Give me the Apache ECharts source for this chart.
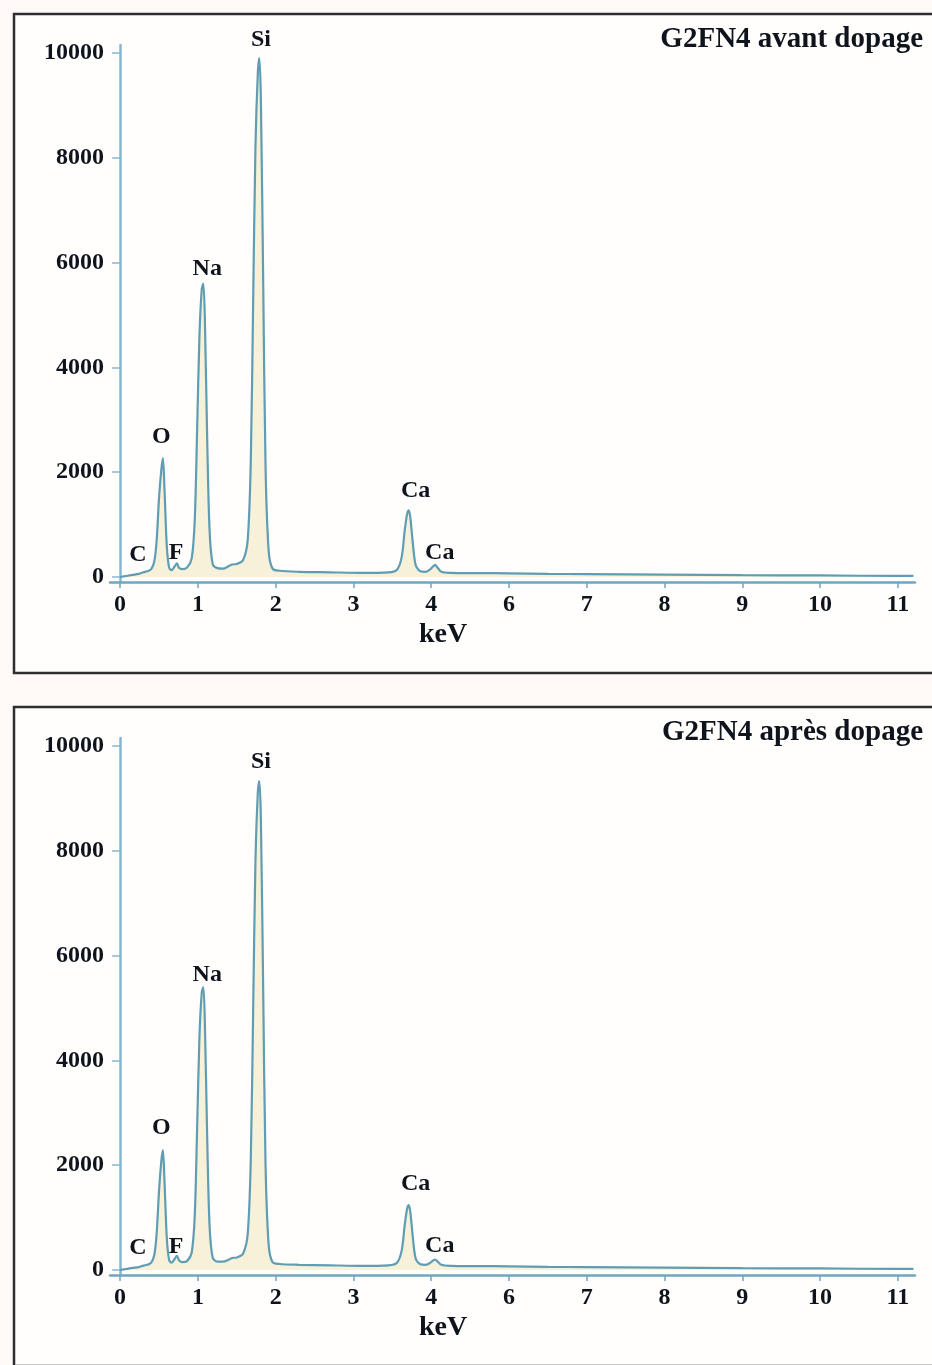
<!DOCTYPE html>
<html>
<head>
<meta charset="utf-8">
<script src="https://cdn.jsdelivr.net/npm/echarts@6/dist/echarts.min.js"></script>
<style>
html,body{margin:0;padding:0;background:#fffaf8;}
#c{width:932px;height:1365px;}
</style>
</head>
<body>
<div id="c"></div>
<script>
// ---- data ----
const energy = [0.00,0.08,0.16,0.24,0.30,0.35,0.40,0.44,0.47,0.50,0.53,0.55,0.57,0.60,0.63,0.66,0.70,0.73,0.76,0.80,0.86,0.92,0.96,0.99,1.02,1.05,1.07,1.09,1.12,1.15,1.19,1.25,1.32,1.40,1.44,1.50,1.58,1.64,1.68,1.71,1.74,1.77,1.79,1.81,1.84,1.87,1.91,1.96,2.05,2.30,2.70,3.10,3.45,3.56,3.62,3.66,3.69,3.71,3.73,3.76,3.80,3.86,3.93,3.99,4.03,4.05,4.08,4.13,4.25,4.60,5.00,5.50,6.00,7.00,8.00,9.00,10.00,10.20];
const countsAvant = [0,20,40,60,90,110,150,300,700,1500,2050,2270,1700,600,180,130,200,260,170,150,180,350,1100,2800,4600,5500,5600,4900,2600,900,250,170,160,210,240,250,320,700,2200,5200,8200,9600,9900,9100,5600,2100,500,160,120,100,90,80,90,140,380,900,1200,1270,1150,700,230,110,100,150,210,230,180,100,80,75,70,60,55,45,35,30,20,20];
const countsApres = [0,20,40,55,85,100,140,290,700,1500,2080,2290,1720,620,190,140,210,270,180,150,170,330,1050,2700,4450,5300,5400,4700,2500,850,240,160,160,200,230,240,310,680,2100,4900,7800,9100,9330,8600,5300,2000,480,150,115,100,90,80,90,140,370,870,1170,1240,1120,680,220,110,100,140,190,200,165,100,80,75,70,60,55,45,35,30,20,20];

const xTickValues = [0,1,2,3,4,5,6,7,8,9,10];
const xTickLabels = ['0','1','2','3','4','6','7','8','9','10','11'];
const yTickValues = [0,2000,4000,6000,8000,10000];

const peakNames = ['Si','Na','O','C','F','Ca','Ca'];
const peakLabelEnergy = [1.81,1.12,0.53,0.23,0.72,3.80,4.11];
const peakLabelCountAvant = [10250,5880,2670,420,460,1640,460];
const peakLabelCountApres = [9690,5630,2710,420,440,1640,460];

const titles = ['G2FN4 avant dopage','G2FN4 après dopage'];
const xName = 'keV';

// ---- chart ----
const FONT = '"Liberation Serif", "DejaVu Serif", serif';
const TXT = '#0f141c';
const PANEL_SHIFT = 693;

function zip(xs, ys){ return xs.map((x,i)=>[x, ys[i]]); }

function makeGrid(i){
  return {left:110, width:805, top:45 + i*PANEL_SHIFT, height:537, containLabel:false};
}
function makeX(i){
  return {
    type:'value', gridIndex:i, min:-0.13, max:10.22,
    splitLine:{show:false},
    axisLine:{onZero:false, lineStyle:{color:'#6fa7bf', width:2.5}},
    axisTick:{show:true, length:6, customValues:xTickValues, lineStyle:{color:'#6fa7bf', width:1.5}},
    axisLabel:{customValues:xTickValues, margin:11, color:TXT, fontFamily:FONT, fontWeight:'bold', fontSize:24,
      formatter:v=>{const k=Math.round(v); return Math.abs(v-k)<1e-6 ? xTickLabels[k] : '';}}
  };
}
function makeY(i){
  return {
    type:'value', gridIndex:i, min:-95, max:10150,
    splitLine:{show:false},
    axisLine:{show:true, onZero:true, lineStyle:{color:'#86b6cc', width:2.5}},
    axisTick:{show:true, length:8, customValues:yTickValues, lineStyle:{color:'#86b6cc', width:1.5}},
    axisLabel:{customValues:yTickValues, margin:6, color:TXT, fontFamily:FONT, fontWeight:'bold', fontSize:24,
      formatter:v=>String(v)}
  };
}
function spectrum(i, counts){
  return {
    type:'line', xAxisIndex:i, yAxisIndex:i, data:zip(energy, counts),
    showSymbol:false, smooth:0.3, clip:false,
    lineStyle:{color:'#5e9db3', width:2.2},
    areaStyle:{color:'rgba(240,228,180,0.7)'},
    z:3
  };
}
function peakLabels(i, counts){
  return {
    type:'scatter', xAxisIndex:i, yAxisIndex:i, clip:false, symbol:'circle', symbolSize:0,
    itemStyle:{color:TXT, opacity:1},
    data:peakNames.map((n,k)=>({name:n, value:[peakLabelEnergy[k], counts[k]]})),
    label:{show:true, position:'inside', formatter:'{b}', color:TXT, opacity:1, textBorderWidth:0,
      fontFamily:FONT, fontWeight:'bold', fontSize:24},
    emphasis:{disabled:true},
    silent:true, z:5
  };
}

const chart = echarts.init(document.getElementById('c'), null, {renderer:'canvas'});
const graphics = [];
[0,1].forEach(i=>{
  const off = i*PANEL_SHIFT;
  graphics.push({type:'rect', z:-10, shape:{x:14, y:14+off, width:940, height:659}, style:{fill:'#fffefd', stroke:'#2e2e2e', lineWidth:2.5}});
  graphics.push({type:'text', z:10, style:{text:titles[i], x:923, y:40+off, align:'right', verticalAlign:'middle', fill:TXT, font:'bold 29px '+FONT}});
  graphics.push({type:'text', z:10, style:{text:xName, x:443, y:635+off, align:'center', verticalAlign:'middle', fill:TXT, font:'bold 28px '+FONT}});
});

chart.setOption({
  animation:false,
  backgroundColor:'#fffaf8',
  grid:[makeGrid(0), makeGrid(1)],
  xAxis:[makeX(0), makeX(1)],
  yAxis:[makeY(0), makeY(1)],
  graphic:graphics,
  series:[spectrum(0, countsAvant), spectrum(1, countsApres), peakLabels(0, peakLabelCountAvant), peakLabels(1, peakLabelCountApres)]
});
</script>
</body>
</html>
